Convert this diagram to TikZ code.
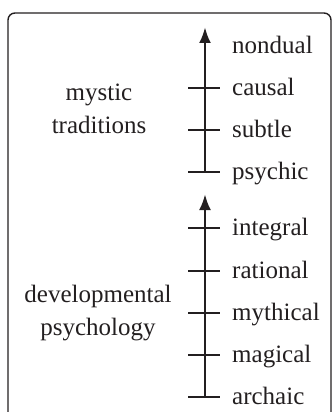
\documentclass[tikz,border=0pt]{standalone}
\usepackage{fontspec}
\setmainfont{Liberation Serif}
\usetikzlibrary{arrows.meta}
\definecolor{ink}{HTML}{231F20}
\begin{document}
\begin{tikzpicture}[x=1pt,y=-1pt,
  lbl/.style={font=\fontsize{25}{33}\selectfont, anchor=base west, inner sep=0pt, text=ink},
  grp/.style={font=\fontsize{25}{33}\selectfont, anchor=base, inner sep=0pt, text=ink},
  axisline/.style={draw=ink, line width=2.8pt, -{Latex[length=16pt,width=12pt]}},
  tick/.style={draw=ink, line width=2.8pt},
  frame/.style={draw=ink, line width=1.4pt, rounded corners=7pt}]
\useasboundingbox (0,0) rectangle (333,412);
\draw[frame] (8,424) -- (8,13) -- (331,13) -- (331,424);
% upper scale
\coordinate (utop) at (205,27);
\coordinate (ucausal) at (205,88);
\coordinate (usubtle) at (205,130);
\coordinate (upsychic) at (205,172);
\draw[axisline] (upsychic) -- (utop);
\foreach \t in {ucausal,usubtle,upsychic}{\draw[tick] ([xshift=-17pt]\t) -- ([xshift=15pt]\t);}
\node[lbl] (nondual) at (232,53) {nondual};
\node[lbl] (causal) at (232,95) {causal};
\node[lbl] (subtle) at (232,137) {subtle};
\node[lbl] (psychic) at (232,179) {psychic};
\node[grp] (mystic) at (99,100) {mystic};
\node[grp] (traditions) at (99,133) {traditions};
% lower scale
\coordinate (ltop) at (205,194);
\coordinate (lintegral) at (205,228);
\coordinate (lrational) at (205,271);
\coordinate (lmythical) at (205,313);
\coordinate (lmagical) at (205,355);
\coordinate (larchaic) at (205,397);
\draw[axisline] (larchaic) -- (ltop);
\foreach \t in {lintegral,lrational,lmythical,lmagical,larchaic}{\draw[tick] ([xshift=-17pt]\t) -- ([xshift=15pt]\t);}
\node[lbl] (integral) at (232,235) {integral};
\node[lbl] (rational) at (232,278) {rational};
\node[lbl] (mythical) at (232,320) {mythical};
\node[lbl] (magical) at (232,362) {magical};
\node[lbl] (archaic) at (232,404) {archaic};
\node[grp] (developmental) at (98,302) {developmental};
\node[grp] (psychology) at (98,335) {psychology};
\end{tikzpicture}
\end{document}
